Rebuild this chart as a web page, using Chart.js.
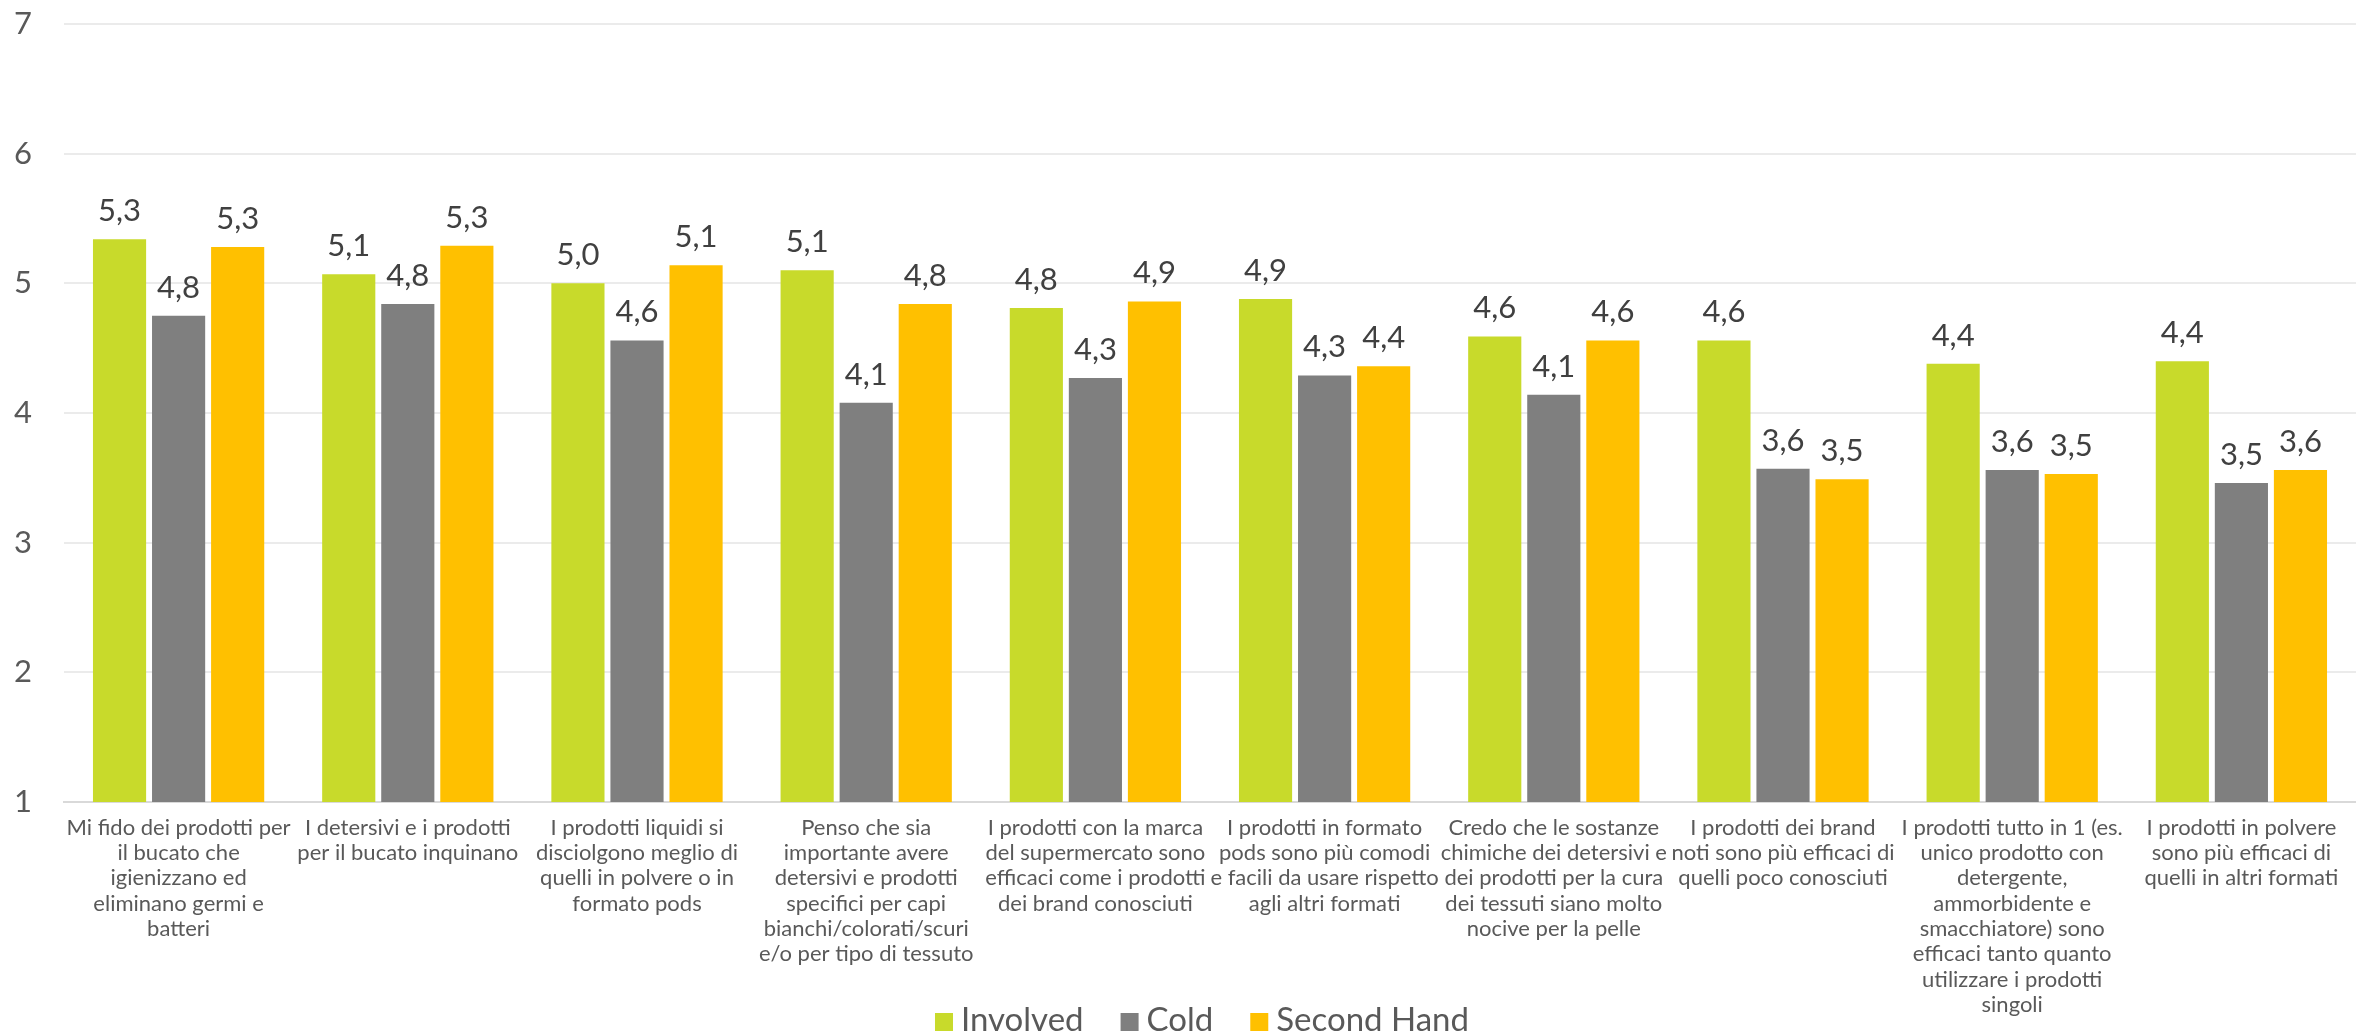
<!DOCTYPE html>
<html lang="it">
<head>
<meta charset="UTF-8">
<title>Detersivi e prodotti per il bucato</title>
<script src="https://cdn.jsdelivr.net/npm/chart.js@4.4.0/dist/chart.umd.min.js"></script>
<style>
    html, body { margin: 0; padding: 0; background: #ffffff; }
    #wrap { width: 2356px; height: 1035px; position: relative; }
</style>
</head>
<body>
<div id="wrap"><canvas id="barChart"></canvas></div>
<script>
// Dati
const categories = [
    ['Mi fido dei prodotti per', 'il bucato che', 'igienizzano ed', 'eliminano germi e', 'batteri'],
    ['I detersivi e i prodotti', 'per il bucato inquinano'],
    ['I prodotti liquidi si', 'disciolgono meglio di', 'quelli in polvere o in', 'formato pods'],
    ['Penso che sia', 'importante avere', 'detersivi e prodotti', 'specifici per capi', 'bianchi/colorati/scuri', 'e/o per tipo di tessuto'],
    ['I prodotti con la marca', 'del supermercato sono', 'efficaci come i prodotti', 'dei brand conosciuti'],
    ['I prodotti in formato', 'pods sono più comodi', 'e facili da usare rispetto', 'agli altri formati'],
    ['Credo che le sostanze', 'chimiche dei detersivi e', 'dei prodotti per la cura', 'dei tessuti siano molto', 'nocive per la pelle'],
    ['I prodotti dei brand', 'noti sono più efficaci di', 'quelli poco conosciuti'],
    ['I prodotti tutto in 1 (es.', 'unico prodotto con', 'detergente,', 'ammorbidente e', 'smacchiatore) sono', 'efficaci tanto quanto', 'utilizzare i prodotti', 'singoli'],
    ['I prodotti in polvere', 'sono più efficaci di', 'quelli in altri formati']
];

const involved   = [5.34, 5.07, 5.00, 5.10, 4.81, 4.88, 4.59, 4.56, 4.38, 4.40];
const cold       = [4.75, 4.84, 4.56, 4.08, 4.27, 4.29, 4.14, 3.57, 3.56, 3.46];
const secondHand = [5.28, 5.29, 5.14, 4.84, 4.86, 4.36, 4.56, 3.49, 3.53, 3.56];

const yTicks = [1, 2, 3, 4, 5, 6, 7];

const textColor = '#595959';
const fontFamily = 'Lato, sans-serif';

// Etichette dei valori sopra le barre
const valueLabels = {
    id: 'valueLabels',
    afterDatasetsDraw(chart) {
        const ctx = chart.ctx;
        ctx.save();
        ctx.font = '31px ' + fontFamily;
        ctx.fillStyle = '#404040';
        ctx.textAlign = 'center';
        ctx.textBaseline = 'alphabetic';
        chart.data.datasets.forEach((ds, i) => {
            chart.getDatasetMeta(i).data.forEach((bar, j) => {
                const label = ds.data[j].toFixed(1).replace('.', ',');
                ctx.fillText(label, bar.x, bar.y - 18);
            });
        });
        ctx.restore();
    }
};

// Legenda in basso, sovrapposta all'area delle etichette
const bottomLegend = {
    id: 'bottomLegend',
    afterDraw(chart) {
        const ctx = chart.ctx;
        const box = 18, gapText = 8, gapItem = 37, baseline = 1031;
        ctx.save();
        ctx.font = '33px ' + fontFamily;
        ctx.textBaseline = 'alphabetic';
        ctx.textAlign = 'left';

        const items = chart.data.datasets.map(ds => ({
            text: ds.label,
            color: ds.backgroundColor,
            width: box + gapText + ctx.measureText(ds.label).width
        }));
        const total = items.reduce((s, it) => s + it.width, 0) + gapItem * (items.length - 1);
        let x = (chart.chartArea.left + chart.chartArea.right) / 2 - total / 2 - 8;

        items.forEach(it => {
            ctx.fillStyle = it.color;
            ctx.fillRect(x, baseline - box, box, box);
            ctx.fillStyle = textColor;
            ctx.fillText(it.text, x + box + gapText, baseline);
            x += it.width + gapItem;
        });
        ctx.restore();
    }
};

function createChart() {
    const ctx = document.getElementById('barChart').getContext('2d');

    new Chart(ctx, {
        type: 'bar',
        data: {
            labels: categories,
            datasets: [
                { label: 'Involved', data: involved, backgroundColor: '#C8DA2B' },
                { label: 'Cold', data: cold, backgroundColor: '#7F7F7F' },
                { label: 'Second Hand', data: secondHand, backgroundColor: '#FFC000' }
            ]
        },
        options: {
            responsive: true,
            maintainAspectRatio: false,
            animation: false,
            datasets: {
                bar: {
                    barPercentage: 0.9,
                    categoryPercentage: 0.773
                }
            },
            layout: {
                padding: 0
            },
            plugins: {
                legend: { display: false },
                tooltip: { enabled: false }
            },
            scales: {
                x: {
                    grid: { display: false, drawTicks: false },
                    border: { color: '#D9D9D9', width: 2 },
                    ticks: {
                        color: textColor,
                        padding: 13,
                        maxRotation: 0,
                        autoSkip: false,
                        font: { family: fontFamily, size: 22, lineHeight: 1.15 }
                    },
                    afterFit: scale => { scale.height = 233; }
                },
                y: {
                    min: 1,
                    max: 7,
                    afterBuildTicks: scale => {
                        scale.ticks = yTicks.map(v => ({ value: v }));
                    },
                    grid: { color: '#EBEBEB', lineWidth: 2, drawTicks: false },
                    border: { display: false },
                    ticks: {
                        color: textColor,
                        padding: 32,
                        font: { family: fontFamily, size: 31 }
                    },
                    afterFit: scale => {
                        scale.width = 64;
                        scale.paddingTop = 24;
                        scale.paddingBottom = 18;
                    }
                }
            }
        },
        plugins: [valueLabels, bottomLegend]
    });
}

document.addEventListener('DOMContentLoaded', () => {
    createChart();
});
</script>
</body>
</html>
